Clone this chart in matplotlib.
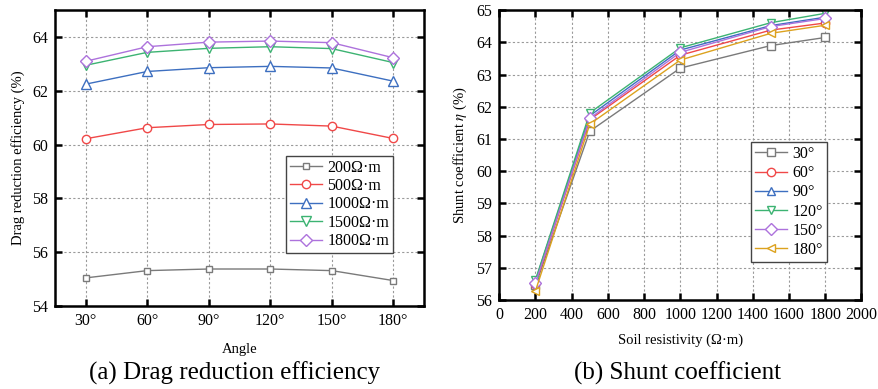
import numpy as np
import matplotlib
matplotlib.use("Agg")
import matplotlib.pyplot as plt

plt.rcParams.update({
    'font.family': ['Liberation Serif', 'DejaVu Serif'],
    'mathtext.fontset': 'stix',
    'font.size': 10,
    'axes.linewidth': 1.8,
})

# Data: (a) drag reduction efficiency vs angle
angles = ['30°', '60°', '90°', '120°', '150°', '180°']
eff_200 = [55.05, 55.32, 55.38, 55.38, 55.32, 54.95]
eff_500 = [60.22, 60.63, 60.75, 60.77, 60.69, 60.23]
eff_1000 = [62.25, 62.72, 62.86, 62.91, 62.85, 62.36]
eff_1500 = [62.95, 63.43, 63.58, 63.64, 63.57, 63.05]
eff_1800 = [63.10, 63.64, 63.81, 63.85, 63.79, 63.23]
eff_labels = ['200Ω·m', '500Ω·m', '1000Ω·m', '1500Ω·m', '1800Ω·m']

# Data: (b) shunt coefficient vs soil resistivity
resistivity = [200, 500, 1000, 1500, 1800]
shunt_30 = [56.45, 61.24, 63.20, 63.90, 64.15]
shunt_60 = [56.50, 61.60, 63.60, 64.38, 64.60]
shunt_90 = [56.60, 61.72, 63.76, 64.52, 64.78]
shunt_120 = [56.62, 61.81, 63.83, 64.61, 64.90]
shunt_150 = [56.52, 61.64, 63.69, 64.49, 64.74]
shunt_180 = [56.28, 61.46, 63.45, 64.28, 64.53]
shunt_labels = ['30°', '60°', '90°', '120°', '150°', '180°']

# Styles
gray, red, blue = '#7a7a7a', '#f04848', '#3d6fc0'
green, purple, gold = '#3cb372', '#ad72dc', '#dca21e'

fig = plt.figure(figsize=(8.79, 3.89), dpi=100)
ax1 = fig.add_axes([0.0626, 0.213, 0.4198, 0.761])
ax2 = fig.add_axes([0.568, 0.229, 0.412, 0.745])


def style_axes(ax):
    ax.tick_params(direction='in', length=5, width=1.8, top=True, right=True,
                   labelsize=11.5, pad=5)
    ax.grid(True, color='#9a9a9a', linestyle=(0, (2, 2)), linewidth=0.8)
    ax.set_axisbelow(True)


# (a)
x = np.arange(1, len(angles) + 1)
series_a = [eff_200, eff_500, eff_1000, eff_1500, eff_1800]
markers_a = ['s', 'o', '^', 'v', 'D']
colors_a = [gray, red, blue, green, purple]
sizes_a = [5, 6, 6.5, 6.5, 6]
for y, m, c, s, lab in zip(series_a, markers_a, colors_a, sizes_a, eff_labels):
    ax1.plot(x, y, marker=m, color=c, mfc='white', mec=c, ms=s, lw=1,
             label=lab)
ax1.set_xlim(0.5, 6.5)
ax1.set_ylim(54, 65)
ax1.set_xticks(x)
ax1.set_xticklabels(angles)
ax1.set_yticks(np.arange(54, 65, 2))
style_axes(ax1)
ax1.set_xlabel('Angle', fontsize=10.5, labelpad=10)
ax1.set_ylabel('Drag reduction efficiency (%)', fontsize=10.5, labelpad=5)
leg1 = ax1.legend(loc='lower right', bbox_to_anchor=(0.916, 0.179),
                  borderaxespad=0, fontsize=11.5, fancybox=False,
                  edgecolor='#444444', framealpha=1, handlelength=2.0,
                  labelspacing=0.15, borderpad=0.25, handletextpad=0.35)
leg1.get_frame().set_linewidth(1)

# (b)
series_b = [shunt_30, shunt_60, shunt_90, shunt_120, shunt_150, shunt_180]
markers_b = ['s', 'o', '^', 'v', 'D', '<']
colors_b = [gray, red, blue, green, purple, gold]
for y, m, c, lab in zip(series_b, markers_b, colors_b, shunt_labels):
    ax2.plot(resistivity, y, marker=m, color=c, mfc='white', mec=c, ms=6,
             lw=1, label=lab)
ax2.set_xlim(0, 2000)
ax2.set_ylim(56, 65)
ax2.set_xticks(np.arange(0, 2001, 200))
ax2.set_yticks(np.arange(56, 66, 1))
style_axes(ax2)
ax2.set_xlabel('Soil resistivity (Ω·m)', fontsize=10.5, labelpad=8)
ax2.set_ylabel(r'Shunt coefficient $\eta$ (%)', fontsize=10.5, labelpad=5)
leg2 = ax2.legend(loc='lower right', bbox_to_anchor=(0.904, 0.131),
                  borderaxespad=0, fontsize=11.5, fancybox=False,
                  edgecolor='#444444', framealpha=1, handlelength=2.0,
                  labelspacing=0.2, borderpad=0.25, handletextpad=0.35)
leg2.get_frame().set_linewidth(1)

# Captions
fig.text(235 / 879, 1 - 373 / 389, '(a) Drag reduction efficiency',
         ha='center', va='center', fontsize=18)
fig.text(678 / 879, 1 - 373 / 389, '(b) Shunt coefficient',
         ha='center', va='center', fontsize=18)

fig.savefig('out.png', dpi=100)
